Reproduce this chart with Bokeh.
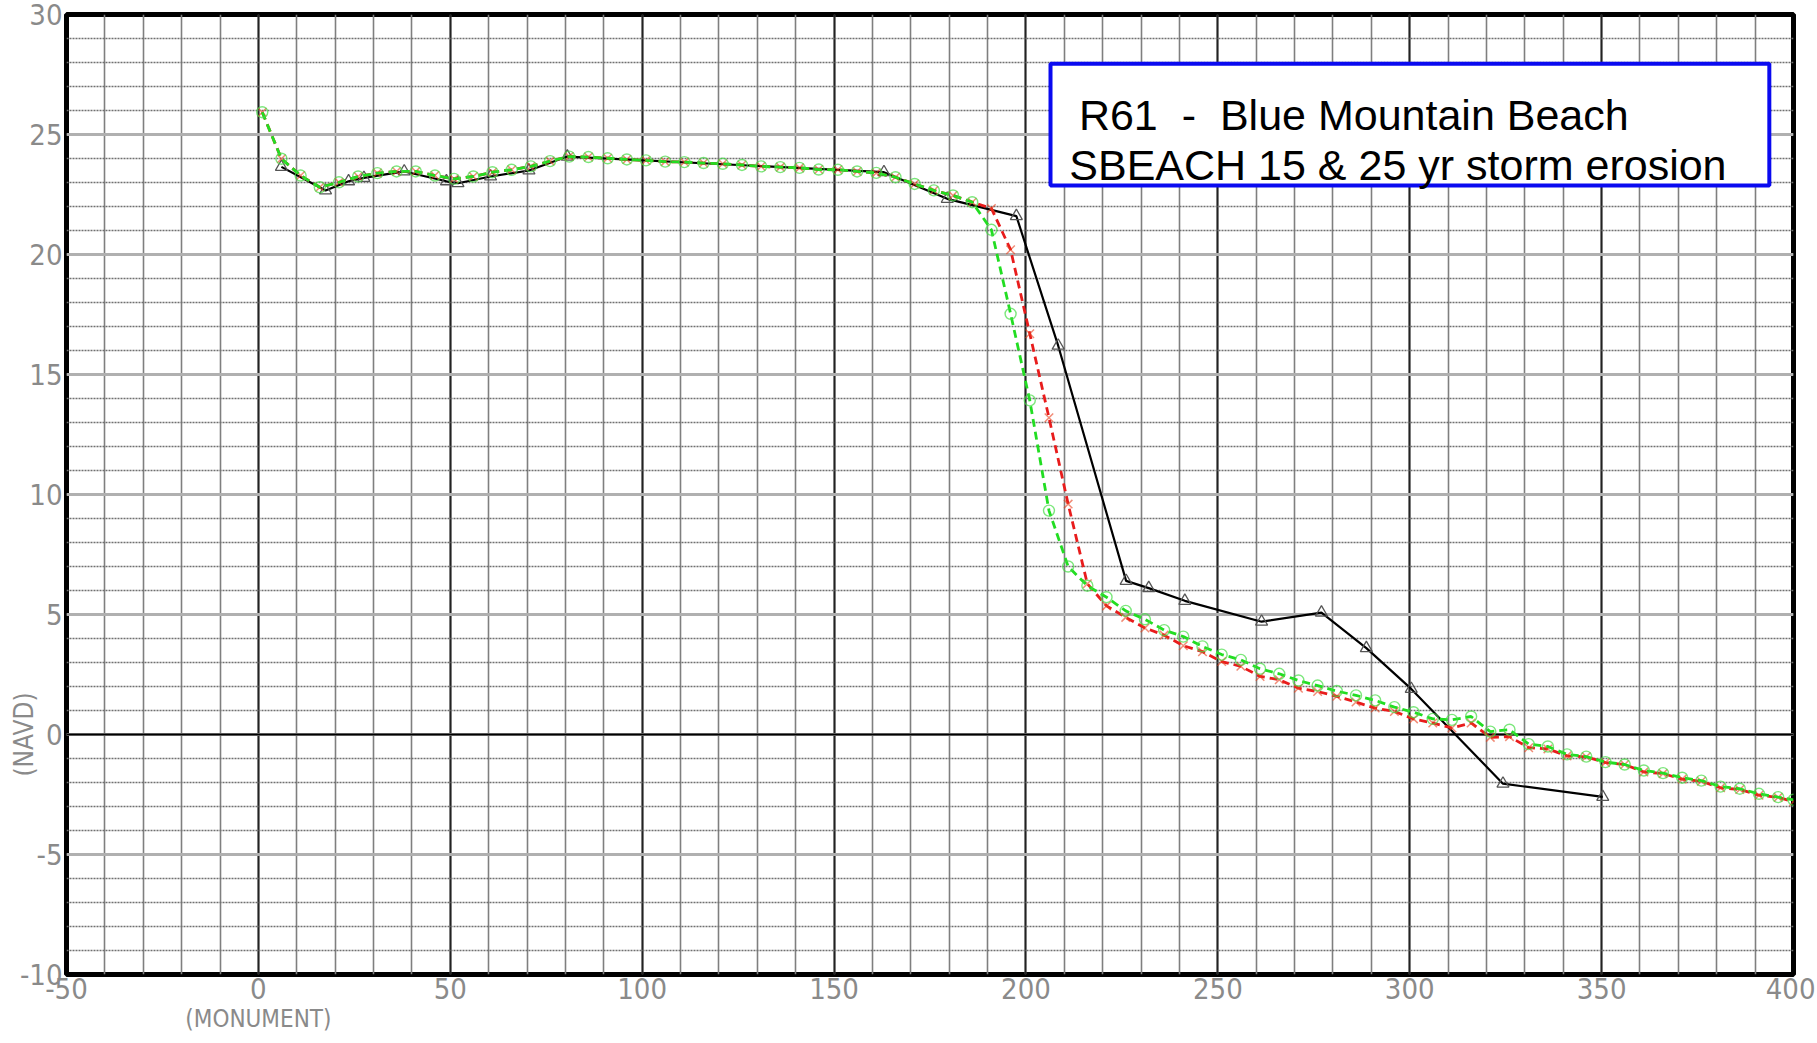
from bokeh.plotting import figure
from bokeh.models import (SingleIntervalTicker, FixedTicker, Grid, BoxAnnotation, Label,
                          LinearAxis)
from bokeh.embed import file_html
from bokeh.resources import INLINE

# ---------------- data ----------------
# post-storm profiles (SBEACH) sampled every 5 ft
storm_x = [1, 6, 11, 16, 21, 26, 31, 36, 41, 46, 51, 56, 61, 66, 71, 76, 81, 86, 91, 96,
           101, 106, 111, 116, 121, 126, 131, 136, 141, 146, 151, 156, 161, 166, 171, 176,
           181, 186, 191, 196, 201, 206, 211, 216, 221, 226, 231, 236, 241, 246, 251, 256,
           261, 266, 271, 276, 281, 286, 291, 296, 301, 306, 311, 316, 321, 326, 331, 336,
           341, 346, 351, 356, 361, 366, 371, 376, 381, 386, 391, 396, 400]
common_top = [25.93, 23.99, 23.29, 22.80, 23.01, 23.25, 23.39, 23.46, 23.46, 23.29,
              23.15, 23.25, 23.43, 23.53, 23.67, 23.89, 24.08, 24.06, 24.01, 23.96,
              23.92, 23.87, 23.85, 23.81, 23.78, 23.73, 23.67, 23.64, 23.61, 23.54,
              23.53, 23.46, 23.40, 23.22, 22.94, 22.67, 22.46, 22.18]
storm25_tail = [21.92, 20.20, 16.70, 13.20, 9.60, 6.28, 5.36, 4.88, 4.44, 4.14, 3.70, 3.45,
                3.04, 2.84, 2.42, 2.28, 1.93, 1.79, 1.59, 1.35, 1.10, 0.96, 0.65, 0.48,
                0.27, 0.48, -0.12, -0.09, -0.55, -0.60, -0.89, -0.93, -1.17, -1.25,
                -1.56, -1.63, -1.86, -1.95, -2.22, -2.29, -2.53, -2.62, -2.80]
storm15_tail = [21.03, 17.53, 13.92, 9.33, 7.00, 6.20, 5.72, 5.15, 4.80, 4.35, 4.08, 3.67,
                3.33, 3.11, 2.74, 2.53, 2.25, 2.04, 1.81, 1.63, 1.42, 1.14, 0.93, 0.65,
                0.61, 0.75, 0.12, 0.20, -0.40, -0.50, -0.83, -0.92, -1.15, -1.25, -1.50,
                -1.61, -1.80, -1.92, -2.17, -2.26, -2.47, -2.61, -2.72]
storm25_y = common_top + storm25_tail
storm15_y = common_top + storm15_tail

# pre-storm surveyed profile
pre_x = [6, 17.5, 23.5, 27.5, 38, 49, 52, 60.5, 70.5, 80.5, 163, 179.5, 197.5, 208.4,
         226.1, 232, 241.4, 261.4, 277, 288.7, 300.4, 324.3, 350.3]
pre_y = [23.65, 22.67, 23.05, 23.19, 23.46, 23.05, 22.97, 23.25, 23.50, 24.08, 23.43,
         22.32, 21.60, 16.20, 6.40, 6.10, 5.57, 4.70, 5.08, 3.60, 1.90, -2.05, -2.60]

x_tick_interval = 50
y_tick_interval = 5
x_label_overrides = {-50: "-50"}
y_label_overrides = {-10: "-10", -5: "-5"}
title_line1 = "R61 \u00a0- \u00a0Blue Mountain Beach"
title_line2 = "SBEACH 15 & 25 yr storm erosion"
x_label = "(MONUMENT)"
y_label = "(NAVD)"

# ---------------- figure ----------------
TICKFONT = "DejaVu Sans Condensed"
GRAY = "#8a8a8a"

p = figure(width=1815, height=1043, x_range=(-50, 400), y_range=(-10, 30),
           output_backend="svg", toolbar_location=None)
p.min_border = 0
p.min_border_left = 66
p.min_border_top = 14
p.min_border_right = 22
p.min_border_bottom = 69
p.background_fill_color = "white"
p.border_fill_color = "white"
p.outline_line_color = "black"
p.outline_line_width = 5

xt = SingleIntervalTicker(interval=x_tick_interval, num_minor_ticks=5)
yt = SingleIntervalTicker(interval=y_tick_interval, num_minor_ticks=5)
p.xaxis.ticker = xt
p.yaxis.ticker = yt
p.xgrid.ticker = xt
p.ygrid.ticker = yt
p.xaxis.major_label_overrides = x_label_overrides
p.yaxis.major_label_overrides = y_label_overrides


def style_axis(ax, size, standoff):
    ax.axis_line_color = None
    ax.major_tick_line_color = None
    ax.minor_tick_line_color = None
    ax.major_tick_out = 0
    ax.major_tick_in = 0
    ax.minor_tick_out = 0
    ax.minor_tick_in = 0
    ax.major_label_text_color = GRAY
    ax.major_label_text_font = TICKFONT
    ax.major_label_text_font_size = size
    ax.major_label_standoff = standoff


style_axis(p.xaxis[0], "29px", 3)
style_axis(p.yaxis[0], "29px", 4)

# axis titles as single-tick axes placed at monument (x=0) and NAVD datum (y=0)
mon_axis = LinearAxis(ticker=FixedTicker(ticks=[0]), major_label_overrides={0: x_label})
style_axis(mon_axis, "24px", 3)
p.add_layout(mon_axis, "below")

navd_axis = LinearAxis(ticker=FixedTicker(ticks=[0]), major_label_overrides={0: y_label},
                       major_label_orientation="parallel")
style_axis(navd_axis, "26px", -22)
p.add_layout(navd_axis, "left")

p.xgrid.grid_line_color = "#222222"
p.xgrid.grid_line_width = 2
p.xgrid.minor_grid_line_color = "#7f7f7f"
p.xgrid.minor_grid_line_width = 1.6

p.ygrid.grid_line_color = "#b0b0b0"
p.ygrid.grid_line_width = 3
p.ygrid.minor_grid_line_color = "#707070"
p.ygrid.minor_grid_line_width = 1.5
p.ygrid.minor_grid_line_dash = "2 1"

zero_grid = Grid(dimension=1, ticker=FixedTicker(ticks=[0]),
                 grid_line_color="black", grid_line_width=2)
p.add_layout(zero_grid)

# ---------------- series ----------------
p.line(pre_x, pre_y, line_color="black", line_width=2.2)
p.scatter(pre_x, pre_y, marker="triangle", size=12, fill_color=None,
          line_color="#555555", line_width=1.3)

p.line(storm_x, storm25_y, line_color="#e81c1c", line_width=2.8, line_dash="8 5")
p.scatter(storm_x, storm25_y, marker="x", size=12, line_color="#e8401c",
          line_alpha=0.6, line_width=1.5)

p.line(storm_x, storm15_y, line_color="#22dd22", line_width=2.8, line_dash="8 5")
p.scatter(storm_x, storm15_y, marker="circle", size=11, fill_color=None,
          line_color="#44dd44", line_alpha=0.7, line_width=1.4)

# ---------------- title box ----------------
box = BoxAnnotation(left=206.4, right=393.7, bottom=22.875, top=27.95,
                    fill_color="white", fill_alpha=1.0,
                    line_color="#0a0af0", line_alpha=1.0, line_width=4)
p.add_layout(box)
p.add_layout(Label(x=213.8, y=25.82, text=title_line1, text_font="Liberation Sans",
                   text_font_size="43px", text_color="black",
                   text_baseline="alphabetic", text_align="left"))
p.add_layout(Label(x=211.3, y=23.71, text=title_line2, text_font="Liberation Sans",
                   text_font_size="43px", text_color="black",
                   text_baseline="alphabetic", text_align="left"))

open("out.html", "w").write(file_html(p, INLINE))
